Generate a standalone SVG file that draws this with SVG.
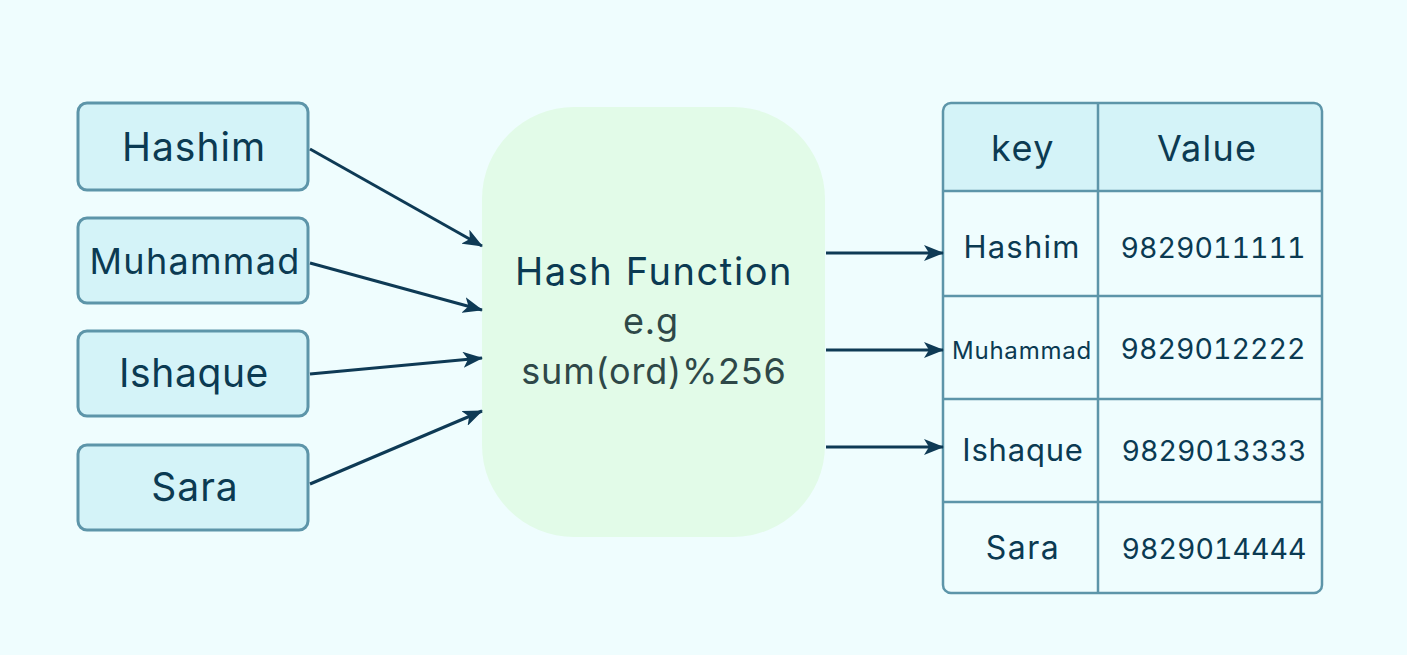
<svg xmlns="http://www.w3.org/2000/svg" width="1407" height="655" viewBox="0 0 1407 655">
<defs>
<marker id="ah" viewBox="0 0 20 16" refX="19" refY="8" markerWidth="20" markerHeight="16" markerUnits="userSpaceOnUse" orient="auto">
<path d="M0,0 L20,8 L0,16 L5,8 z" fill="#0e3a55"/>
</marker>
<style>
.box{fill:#d4f3f8;stroke:#5d95a9;stroke-width:3}
.t{font-family:Inter,"Noto Sans","Liberation Sans",sans-serif;fill:#0b3a52;text-anchor:middle}
.g{fill:#2e4848}
.num{font-variant-numeric:tabular-nums;font-feature-settings:"tnum" 1}
.conn{stroke:#0e3a55;stroke-width:3;fill:none;marker-end:url(#ah)}
.grid{stroke:#5d95a9;stroke-width:2.5;fill:none}
</style>
</defs>
<rect width="1407" height="655" fill="#effdfe"/>
<g id="n-hashim"><rect class="box" x="78" y="103" width="230" height="87" rx="9"/><text class="t" x="194" y="161" font-size="39" letter-spacing="1">Hashim</text></g>
<g id="n-muhammad"><rect class="box" x="78" y="218" width="230" height="85" rx="9"/><text class="t" x="195" y="274" font-size="36" letter-spacing="1.3">Muhammad</text></g>
<g id="n-ishaque"><rect class="box" x="78" y="331" width="230" height="85" rx="9"/><text class="t" x="194" y="387" font-size="39" letter-spacing="0.6">Ishaque</text></g>
<g id="n-sara"><rect class="box" x="78" y="445" width="230" height="85" rx="9"/><text class="t" x="195" y="501" font-size="39" letter-spacing="1">Sara</text></g>
<g id="n-hash"><rect x="482" y="107" width="343" height="430" rx="92" fill="#e2fbe8"/>
<text class="t" x="654" y="285" font-size="38" letter-spacing="1.6">Hash Function</text>
<text class="t g" x="651" y="334" font-size="36" letter-spacing="0.8">e.g</text>
<text class="t g" x="654" y="384" font-size="36" letter-spacing="0.8">sum(ord)%256</text></g>
<g id="n-table">
<path d="M943,191 V111 a8,8 0 0 1 8,-8 H1314 a8,8 0 0 1 8,8 V191 z" fill="#d4f3f8"/>
<rect class="grid" x="943" y="103" width="379" height="490" rx="8"/>
<path class="grid" d="M1098,103 V593 M943,191 H1322 M943,296 H1322 M943,399 H1322 M943,502 H1322"/>
<text class="t" x="1023" y="161" font-size="36" letter-spacing="1.5">key</text>
<text class="t" x="1207" y="161" font-size="36" letter-spacing="1.2">Value</text>
<text class="t" x="1022" y="258" font-size="31" letter-spacing="1.2">Hashim</text>
<text class="t num" x="1213" y="258" font-size="28.5">9829011111</text>
<text class="t" x="1022" y="359" font-size="24" letter-spacing="0.8">Muhammad</text>
<text class="t num" x="1213" y="359" font-size="28.5">9829012222</text>
<text class="t" x="1023" y="461" font-size="31" letter-spacing="0.8">Ishaque</text>
<text class="t num" x="1214" y="461" font-size="28.5">9829013333</text>
<text class="t" x="1023" y="559" font-size="32" letter-spacing="1.5">Sara</text>
<text class="t num" x="1214" y="559" font-size="28.5">9829014444</text>
</g>
<g id="connectors">
<line class="conn" x1="310" y1="149" x2="482" y2="246"/>
<line class="conn" x1="310" y1="263" x2="482" y2="310"/>
<line class="conn" x1="310" y1="374" x2="482" y2="358"/>
<line class="conn" x1="310" y1="484" x2="482" y2="411"/>
<line class="conn" x1="826" y1="253" x2="943" y2="253"/>
<line class="conn" x1="826" y1="350" x2="943" y2="350"/>
<line class="conn" x1="826" y1="447" x2="943" y2="447"/>
</g>
</svg>
